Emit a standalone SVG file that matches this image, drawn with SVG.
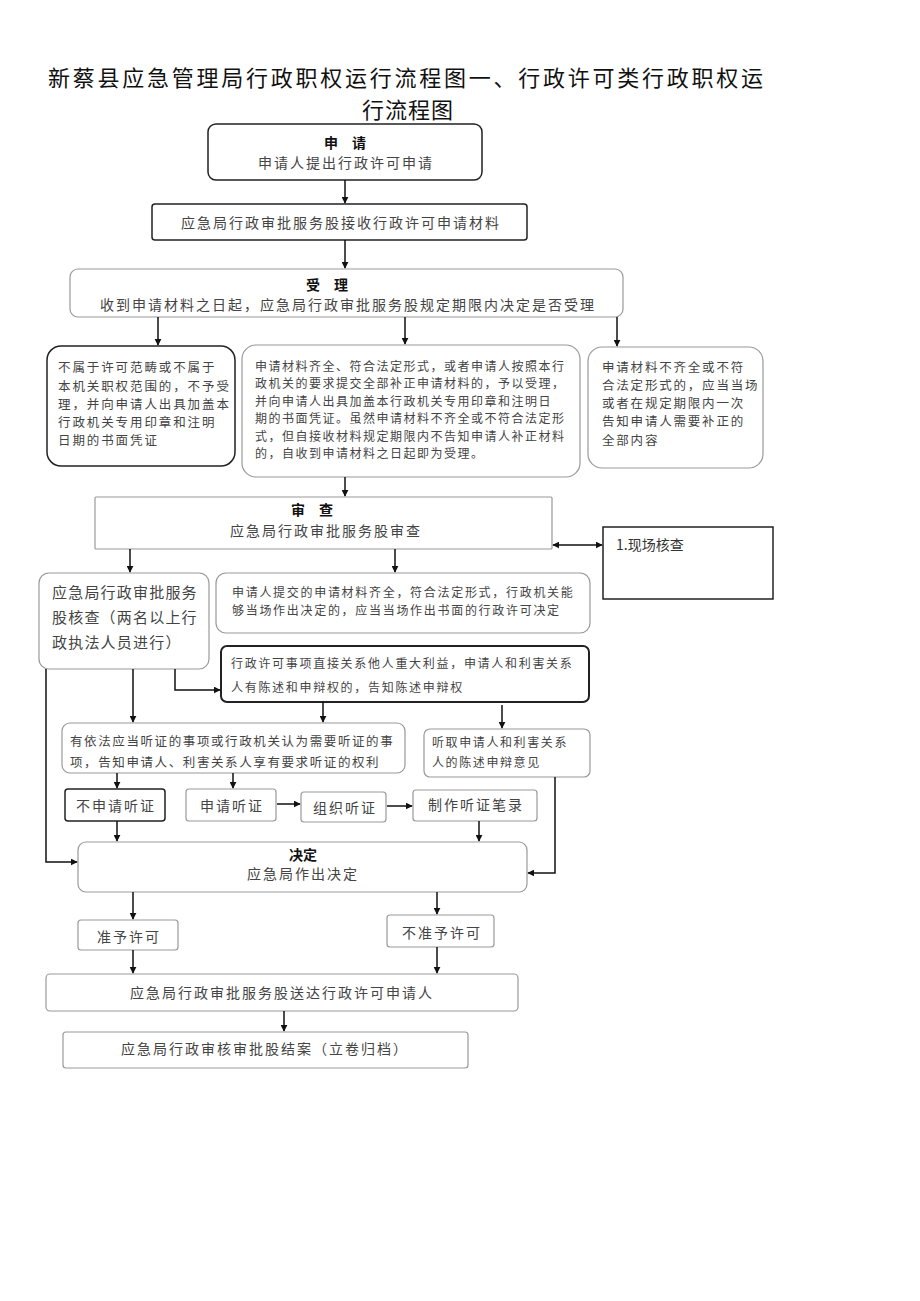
<svg xmlns="http://www.w3.org/2000/svg" width="920" height="1301" viewBox="0 0 920 1301">
<defs>
<marker id="ah" viewBox="0 0 10 10" refX="9" refY="5" markerWidth="7" markerHeight="7" markerUnits="userSpaceOnUse" orient="auto-start-reverse">
<path d="M0,0 L10,5 L0,10 z" fill="#111"/>
</marker>
<style>
text{font-family:"Noto Sans CJK SC","Noto Sans CJK JP",sans-serif;fill:#444}
.t{font-size:22px;fill:#111;letter-spacing:1px}
.h{font-size:14px;font-weight:bold;fill:#111}
.m{font-size:14px;letter-spacing:2px}
.s{font-size:12px;letter-spacing:1.7px}
.b4{font-size:12.5px;letter-spacing:1.9px}
.b6{font-size:12.5px;letter-spacing:1.8px}
.b5{font-size:12px;letter-spacing:1.5px}
.d{fill:#fff;stroke:#222;stroke-width:1.5}
.g{fill:#fff;stroke:#999;stroke-width:1.2}
.c{fill:none;stroke:#111;stroke-width:1.5}
</style>
</defs>
<rect width="920" height="1301" fill="#fff"/>
<g id="title">
<text class="t" x="48" y="86" textLength="716" lengthAdjust="spacing">新蔡县应急管理局行政职权运行流程图一、行政许可类行政职权运</text>
<text class="t" x="362" y="118">行流程图</text>
</g>
<g id="n1">
<rect class="d" x="208" y="124" width="274" height="56" rx="8"/>
<text class="h" x="345" y="148" text-anchor="middle">申　请</text>
<text class="m" x="346" y="168" text-anchor="middle">申请人提出行政许可申请</text>
</g>
<g id="n2">
<rect class="d" x="152" y="204" width="375" height="36" rx="3"/>
<text class="m" x="341" y="228" text-anchor="middle">应急局行政审批服务股接收行政许可申请材料</text>
</g>
<g id="n3">
<rect class="g" x="70" y="269" width="553" height="48" rx="8"/>
<text class="h" x="327" y="290" text-anchor="middle">受　理</text>
<text class="m" x="348" y="310" text-anchor="middle">收到申请材料之日起，应急局行政审批服务股规定期限内决定是否受理</text>
</g>
<g id="n4">
<rect class="d" x="47" y="346" width="188" height="120" rx="14"/>
<text class="b4" x="58" y="372">不属于许可范畴或不属于</text>
<text class="b4" x="58" y="391">本机关职权范围的，不予受</text>
<text class="b4" x="58" y="409">理，并向申请人出具加盖本</text>
<text class="b4" x="58" y="427">行政机关专用印章和注明</text>
<text class="b4" x="58" y="445">日期的书面凭证</text>
</g>
<g id="n5">
<rect class="g" x="242" y="345" width="338" height="132" rx="14"/>
<text class="b5" x="255" y="371">申请材料齐全、符合法定形式，或者申请人按照本行</text>
<text class="b5" x="255" y="388">政机关的要求提交全部补正申请材料的，予以受理，</text>
<text class="b5" x="255" y="406">并向申请人出具加盖本行政机关专用印章和注明日</text>
<text class="b5" x="255" y="423">期的书面凭证。虽然申请材料不齐全或不符合法定形</text>
<text class="b5" x="255" y="441">式，但自接收材料规定期限内不告知申请人补正材料</text>
<text class="b5" x="255" y="458">的，自收到申请材料之日起即为受理。</text>
</g>
<g id="n6">
<rect class="g" x="588" y="347" width="175" height="121" rx="14"/>
<text class="b6" x="602" y="372">申请材料不齐全或不符</text>
<text class="b6" x="602" y="390">合法定形式的，应当当场</text>
<text class="b6" x="602" y="408">或者在规定期限内一次</text>
<text class="b6" x="602" y="426">告知申请人需要补正的</text>
<text class="b6" x="602" y="445">全部内容</text>
</g>
<g id="n7">
<rect class="g" x="95" y="497" width="457" height="52" rx="1"/>
<text class="h" x="312" y="515" text-anchor="middle">审　查</text>
<text class="m" x="326" y="536" text-anchor="middle">应急局行政审批服务股审查</text>
</g>
<g id="n8">
<rect class="d" x="603" y="527" width="170" height="72"/>
<text style="font-size:14px;fill:#333" x="616" y="550">1.现场核查</text>
</g>
<g id="n9">
<rect class="g" x="39" y="573" width="170" height="96" rx="10"/>
<text style="font-size:15px;letter-spacing:1.2px" x="52" y="598">应急局行政审批服务</text>
<text style="font-size:15px;letter-spacing:1.2px" x="52" y="623">股核查（两名以上行</text>
<text style="font-size:15px;letter-spacing:1.2px" x="52" y="648">政执法人员进行）</text>
</g>
<g id="n10">
<rect class="g" x="216" y="573" width="374" height="60" rx="10"/>
<text class="s" x="232" y="597">申请人提交的申请材料齐全，符合法定形式，行政机关能</text>
<text class="s" x="232" y="615">够当场作出决定的，应当当场作出书面的行政许可决定</text>
</g>
<g id="n11">
<rect x="221" y="646" width="368" height="56" rx="6" fill="#fff" stroke="#222" stroke-width="2"/>
<text class="s" x="231" y="668">行政许可事项直接关系他人重大利益，申请人和利害关系</text>
<text class="s" x="231" y="692">人有陈述和申辩权的，告知陈述申辩权</text>
</g>
<g id="n12">
<rect class="g" x="62" y="723" width="343" height="50" rx="8"/>
<text style="font-size:12.5px;letter-spacing:1.6px" x="70" y="746">有依法应当听证的事项或行政机关认为需要听证的事</text>
<text style="font-size:12.5px;letter-spacing:1.6px" x="70" y="767">项，告知申请人、利害关系人享有要求听证的权利</text>
</g>
<g id="n13">
<rect class="g" x="424" y="729" width="166" height="48" rx="6"/>
<text style="font-size:12px;letter-spacing:1.6px" x="432" y="747">听取申请人和利害关系</text>
<text style="font-size:12px;letter-spacing:1.6px" x="432" y="767">人的陈述申辩意见</text>
</g>
<g id="n14">
<rect class="d" x="65" y="789" width="100" height="32" rx="3"/>
<text class="m" x="116" y="811" text-anchor="middle">不申请听证</text>
</g>
<g id="n15">
<rect class="g" x="186" y="789" width="90" height="32" rx="3"/>
<text class="m" x="232" y="811" text-anchor="middle">申请听证</text>
</g>
<g id="n16">
<rect class="g" x="301" y="792" width="85" height="30" rx="3"/>
<text class="m" x="345" y="813" text-anchor="middle">组织听证</text>
</g>
<g id="n17">
<rect class="g" x="413" y="790" width="124" height="31" rx="3"/>
<text class="m" x="476" y="810" text-anchor="middle">制作听证笔录</text>
</g>
<g id="n18">
<rect class="g" x="78" y="842" width="449" height="50" rx="8"/>
<text class="h" x="303" y="860" text-anchor="middle">决定</text>
<text class="m" x="303" y="879" text-anchor="middle">应急局作出决定</text>
</g>
<g id="n19">
<rect class="g" x="78" y="920" width="100" height="30" rx="3"/>
<text class="m" x="129" y="942" text-anchor="middle">准予许可</text>
</g>
<g id="n20">
<rect class="g" x="387" y="915" width="107" height="32" rx="3"/>
<text class="m" x="442" y="938" text-anchor="middle">不准予许可</text>
</g>
<g id="n21">
<rect class="g" x="46" y="974" width="472" height="37" rx="4"/>
<text class="m" x="282" y="998" text-anchor="middle">应急局行政审批服务股送达行政许可申请人</text>
</g>
<g id="n22">
<rect class="g" x="63" y="1032" width="405" height="36" rx="3"/>
<text class="m" x="265" y="1054" text-anchor="middle">应急局行政审核审批股结案（立卷归档）</text>
</g>
<g id="connectors">
<line class="c" x1="345" y1="180" x2="345" y2="203" marker-end="url(#ah)"/>
<line class="c" x1="345" y1="240" x2="345" y2="268" marker-end="url(#ah)"/>
<line class="c" x1="158" y1="317" x2="158" y2="345" marker-end="url(#ah)"/>
<line class="c" x1="405" y1="317" x2="405" y2="344" marker-end="url(#ah)"/>
<line class="c" x1="617" y1="317" x2="617" y2="346" marker-end="url(#ah)"/>
<line class="c" x1="345" y1="477" x2="345" y2="496" marker-end="url(#ah)"/>
<line class="c" x1="553" y1="545" x2="602" y2="545" marker-start="url(#ah)" marker-end="url(#ah)"/>
<line class="c" x1="130" y1="549" x2="130" y2="572" marker-end="url(#ah)"/>
<line class="c" x1="395" y1="549" x2="395" y2="572" marker-end="url(#ah)"/>
<polyline class="c" points="175,669 175,690 220,690" marker-end="url(#ah)"/>
<polyline class="c" points="46,669 46,862 77,862" marker-end="url(#ah)"/>
<line class="c" x1="133" y1="669" x2="133" y2="722" marker-end="url(#ah)"/>
<line class="c" x1="323" y1="702" x2="323" y2="722" marker-end="url(#ah)"/>
<line class="c" x1="502" y1="705" x2="502" y2="728" marker-end="url(#ah)"/>
<line class="c" x1="117" y1="773" x2="117" y2="788" marker-end="url(#ah)"/>
<line class="c" x1="233" y1="773" x2="233" y2="788" marker-end="url(#ah)"/>
<line class="c" x1="277" y1="804" x2="300" y2="804" marker-end="url(#ah)"/>
<line class="c" x1="387" y1="806" x2="412" y2="806" marker-end="url(#ah)"/>
<line class="c" x1="117" y1="821" x2="117" y2="841" marker-end="url(#ah)"/>
<line class="c" x1="479" y1="821" x2="479" y2="841" marker-end="url(#ah)"/>
<polyline class="c" points="555,777 555,873 528,873" marker-end="url(#ah)"/>
<line class="c" x1="133" y1="892" x2="133" y2="919" marker-end="url(#ah)"/>
<line class="c" x1="437" y1="892" x2="437" y2="914" marker-end="url(#ah)"/>
<line class="c" x1="133" y1="950" x2="133" y2="973" marker-end="url(#ah)"/>
<line class="c" x1="437" y1="947" x2="437" y2="973" marker-end="url(#ah)"/>
<line class="c" x1="284" y1="1011" x2="284" y2="1031" marker-end="url(#ah)"/>
</g>
</svg>
